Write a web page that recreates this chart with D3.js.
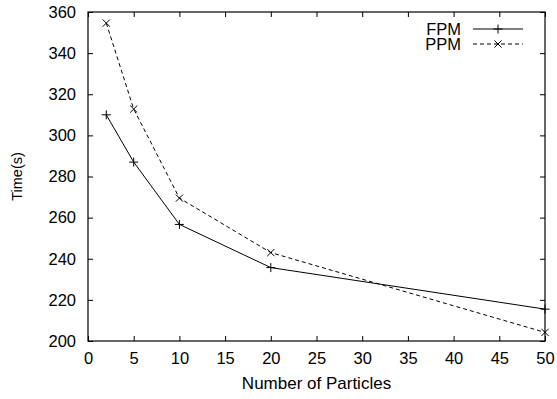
<!DOCTYPE html>
<html>
<head>
<meta charset="utf-8">
<script src="https://d3js.org/d3.v7.min.js"></script>
<style>
  body { margin: 0; background: #fff; }
  svg { font-family: "Liberation Sans", Arial, sans-serif; }
</style>
</head>
<body>
<div id="chart"></div>
<script>
// data
const particles = [2, 5, 10, 20, 50];
const fpmTimes = [310, 287, 256.7, 235.7, 215.5];
const ppmTimes = [354.6, 312.8, 269.5, 243, 204.2];
const xTicks = [0, 5, 10, 15, 20, 25, 30, 35, 40, 45, 50];
const yTicks = [200, 220, 240, 260, 280, 300, 320, 340, 360];

const width = 557, height = 399;
const margin = { left: 88, right: 12, top: 12, bottom: 58 };
const fontSize = 16.5;

const svg = d3.select("#chart").append("svg")
  .attr("width", width)
  .attr("height", height);

const x = d3.scaleLinear().domain([0, 50]).range([margin.left, width - margin.right]);
const y = d3.scaleLinear().domain([200, 360]).range([height - margin.bottom, margin.top]);

const tickLen = 5;

// inward ticks on all four sides, gnuplot style
const axisB = d3.axisBottom(x).tickValues(xTicks).tickSize(-tickLen).tickPadding(11);
const axisT = d3.axisTop(x).tickValues(xTicks).tickSize(-tickLen).tickFormat("");
const axisL = d3.axisLeft(y).tickValues(yTicks).tickSize(-tickLen).tickPadding(12);
const axisR = d3.axisRight(y).tickValues(yTicks).tickSize(-tickLen).tickFormat("");

function style(g) {
  g.select(".domain").remove();
  g.selectAll("line").attr("stroke", "#000");
  g.selectAll("text").attr("font-size", fontSize).attr("fill", "#000")
    .attr("font-family", "Liberation Sans, Arial, sans-serif");
}

svg.append("g").attr("transform", `translate(0,${y(200)})`).call(axisB).call(style);
svg.append("g").attr("transform", `translate(0,${y(360)})`).call(axisT).call(style);
svg.append("g").attr("transform", `translate(${x(0)},0)`).call(axisL).call(style);
svg.append("g").attr("transform", `translate(${x(50)},0)`).call(axisR).call(style);

// frame
svg.append("rect")
  .attr("x", x(0)).attr("y", y(360))
  .attr("width", x(50) - x(0)).attr("height", y(200) - y(360))
  .attr("fill", "none").attr("stroke", "#000").attr("stroke-width", 1.2);

// axis titles
svg.append("text")
  .attr("x", (x(0) + x(50)) / 2).attr("y", 389)
  .attr("text-anchor", "middle").attr("font-size", 17)
  .text("Number of Particles");

svg.append("text")
  .attr("transform", `translate(22,${(y(200) + y(360)) / 2}) rotate(-90)`)
  .attr("text-anchor", "middle").attr("font-size", 14.5)
  .text("Time(s)");

const line = d3.line().x(d => x(d[0])).y(d => y(d[1]));
const fpm = particles.map((p, i) => [p, fpmTimes[i]]);
const ppm = particles.map((p, i) => [p, ppmTimes[i]]);

const m = 4.5;
function plus(g, cx, cy) {
  g.append("path").attr("d", `M${cx - m},${cy}H${cx + m}M${cx},${cy - m}V${cy + m}`)
    .attr("stroke", "#000").attr("stroke-width", 1);
}
function cross(g, cx, cy) {
  const s = m * 0.8;
  g.append("path").attr("d", `M${cx - s},${cy - s}L${cx + s},${cy + s}M${cx - s},${cy + s}L${cx + s},${cy - s}`)
    .attr("stroke", "#000").attr("stroke-width", 1);
}

svg.append("path").datum(fpm).attr("d", line)
  .attr("fill", "none").attr("stroke", "#000").attr("stroke-width", 1);
svg.append("path").datum(ppm).attr("d", line)
  .attr("fill", "none").attr("stroke", "#000").attr("stroke-width", 1)
  .attr("stroke-dasharray", "4,3");

const marks = svg.append("g");
fpm.forEach(d => plus(marks, x(d[0]), y(d[1])));
ppm.forEach(d => cross(marks, x(d[0]), y(d[1])));

// legend
const legend = svg.append("g");
const lx1 = 473, lx2 = 523;
[["FPM", 29, null, plus], ["PPM", 44, "4,3", cross]].forEach(([name, ly, dash, mk]) => {
  legend.append("text")
    .attr("x", 461).attr("y", ly).attr("dy", "0.35em")
    .attr("text-anchor", "end").attr("font-size", fontSize)
    .text(name);
  legend.append("line")
    .attr("x1", lx1).attr("x2", lx2).attr("y1", ly).attr("y2", ly)
    .attr("stroke", "#000").attr("stroke-width", 1)
    .attr("stroke-dasharray", dash);
  mk(legend, (lx1 + lx2) / 2, ly);
});
</script>
</body>
</html>
